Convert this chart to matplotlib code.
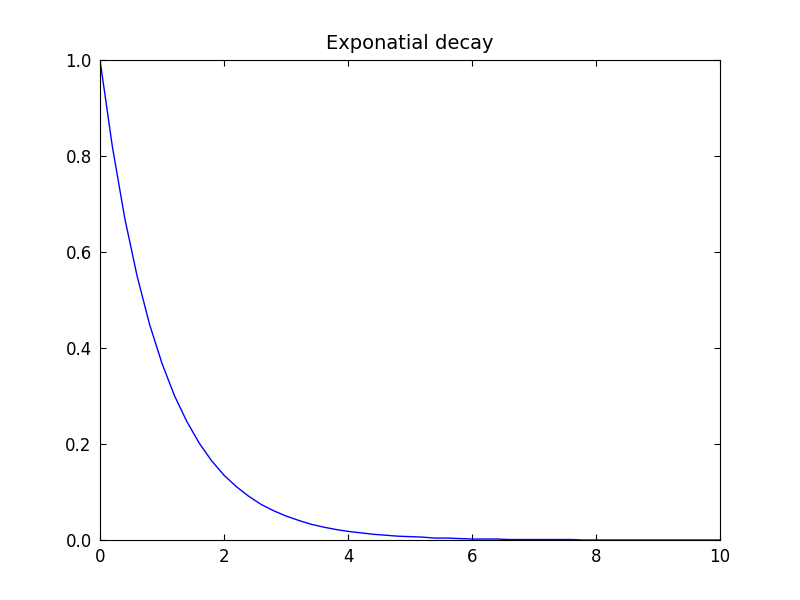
import matplotlib
matplotlib.use("Agg")
import matplotlib.pyplot as plt

# values, step 0.2 in x
x_values = [i * 0.2 for i in range(51)]
y_values = [1.000, 0.819, 0.670, 0.549, 0.449, 0.368, 0.301, 0.247, 0.202, 0.165,
            0.135, 0.111, 0.091, 0.074, 0.061, 0.050, 0.041, 0.033, 0.027, 0.022,
            0.018, 0.015, 0.012, 0.010, 0.008, 0.007, 0.006, 0.004, 0.004, 0.003,
            0.002, 0.002, 0.002, 0.001, 0.001, 0.001, 0.001, 0.001, 0.001, 0.000,
            0.000, 0.000, 0.000, 0.000, 0.000, 0.000, 0.000, 0.000, 0.000, 0.000,
            0.000]
title = "Exponatial decay"

fig = plt.figure(figsize=(8, 6), dpi=100)
ax = fig.add_axes([0.125, 0.1, 0.775, 0.8])
ax.plot(x_values, y_values, color="blue", linewidth=1)
ax.set_xlim(0, 10)
ax.set_ylim(0, 1.0)
ax.set_xticks([0, 2, 4, 6, 8, 10])
ax.set_yticks([0.0, 0.2, 0.4, 0.6, 0.8, 1.0])
ax.set_yticklabels(["0.0", "0.2", "0.4", "0.6", "0.8", "1.0"])
ax.tick_params(direction="in", top=True, right=True, labelsize=12, length=4, pad=6)
ax.set_title(title, fontsize=14, pad=8)
fig.savefig("out.png", dpi=100)
